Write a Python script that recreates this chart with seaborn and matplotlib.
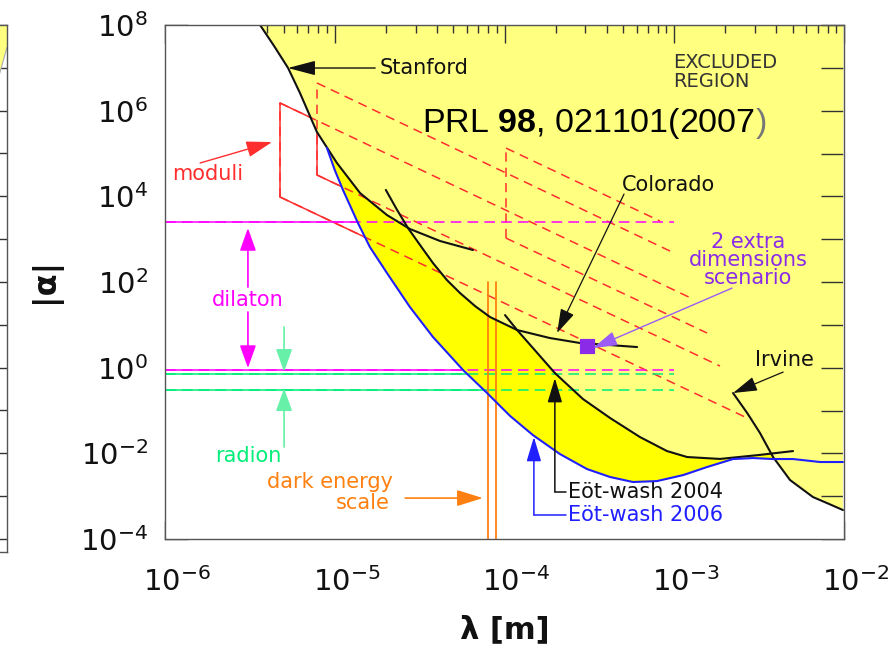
import numpy as np
import matplotlib
matplotlib.use("Agg")
import matplotlib.pyplot as plt
from matplotlib import font_manager
from matplotlib.patches import Polygon
from matplotlib.ticker import LogLocator, NullLocator, FuncFormatter, NullFormatter
from matplotlib.transforms import ScaledTranslation
import seaborn as sns

# ---------------- data ----------------
stanford_lam = [3.63e-6, 4.39e-6, 5.31e-6, 6.24e-6, 7.85e-6, 1.03e-5, 1.41e-5, 2.03e-5, 2.77e-5, 4.17e-5, 6.52e-5]
stanford_alpha = [1e8, 3.24e7, 9.9e6, 2.58e6, 3.18e5, 6.0e4, 1.19e4, 3.66e3, 1.73e3, 906, 558]

colorado_lam = [2.00e-5, 2.33e-5, 2.70e-5, 3.18e-5, 3.79e-5, 4.58e-5, 5.47e-5, 6.70e-5, 8.22e-5,
                1.186e-4, 1.85e-4, 2.79e-4, 4.19e-4, 6.04e-4]
colorado_alpha = [1.41e4, 4.80e3, 1.82e3, 730, 277, 111, 55.3, 27.5, 15.2, 7.57, 4.92, 3.76, 3.37, 3.03]

ew2004_lam = [1.007e-4, 1.186e-4, 1.47e-4, 1.98e-4, 2.90e-4, 4.19e-4, 6.28e-4, 9.06e-4, 1.19e-3,
              1.86e-3, 3.20e-3, 5.01e-3]
ew2004_alpha = [16.9, 7.57, 2.88, 0.750, 0.185, 0.0667, 0.0240, 0.0113, 8.20e-3, 7.4e-3, 9.2e-3, 0.0113]

ew2006_lam = [9.0e-6, 1.0e-5, 1.118e-5, 1.37e-5, 1.61e-5, 2.03e-5, 2.77e-5, 3.79e-5, 5.70e-5, 7.89e-5,
              1.08e-4, 1.47e-4, 2.12e-4, 3.06e-4, 4.19e-4, 5.71e-4, 7.91e-4, 1.13e-3, 1.56e-3, 2.22e-3,
              2.91e-3, 3.82e-3, 5.01e-3, 7.23e-3, 9.86e-3]
ew2006_alpha = [1.34e5, 4.12e4, 1.41e4, 2.38e3, 656, 162, 26.1, 5.2, 0.881, 0.256, 0.0743, 0.0267,
                9.64e-3, 4.30e-3, 2.80e-3, 2.14e-3, 2.25e-3, 3.11e-3, 4.79e-3, 7.36e-3, 7.76e-3,
                7.36e-3, 7.36e-3, 6.27e-3, 6.27e-3]

irvine_lam = [2.22e-3, 2.69e-3, 3.20e-3, 3.82e-3, 4.81e-3, 6.56e-3, 7.94e-3, 9.86e-3]
irvine_alpha = [0.256, 0.0873, 0.0298, 8.20e-3, 2.38e-3, 9.55e-4, 6.90e-4, 4.74e-4]

# moduli bands (three parallelograms): left edge, and ends of the upper / lower edges
moduli_left_lam = [4.76e-6, 7.86e-6, 1.02e-4]
moduli_top_alpha = [1.51e6, 4.43e6, 1.34e5]
moduli_bot_alpha = [9.64e3, 3.15e4, 1.06e3]
moduli_top_end_lam = [1.29e-3, 9.44e-4, 8.24e-4]
moduli_top_end_alpha = [40.0, 528.0, 2.65e3]
moduli_bot_end_lam = [2.69e-3, 1.86e-3, 1.56e-3]
moduli_bot_end_alpha = [0.0667, 1.09, 6.44]

model_lam_range = [1e-6, 1.0e-3]
dilaton_alpha = [2.5e3, 0.9]
radion_alpha = [0.70, 0.30]

dark_energy_lam = [8.0e-5, 8.9e-5]
dark_energy_alpha = [1e-4, 100.0]

scenario_lam = [3.06e-4]
scenario_alpha = [3.2]

xtick_exps = [-6, -5, -4, -3, -2]
ytick_exps = [-4, -2, 0, 2, 4, 6, 8]

# ---------------- style ----------------
sns.set_theme(style="white")
avail = {f.name for f in font_manager.fontManager.ttflist}
TICKFONT = "Liberation Sans Narrow" if "Liberation Sans Narrow" in avail else "DejaVu Sans"
plt.rcParams["font.family"] = ["DejaVu Sans"]
plt.rcParams["mathtext.fontset"] = "custom"
plt.rcParams["mathtext.rm"] = "Liberation Sans"
plt.rcParams["mathtext.bf"] = "Liberation Sans:bold"
plt.rcParams["mathtext.default"] = "regular"

LY = "#ffff80"
BY = "#ffff00"
BLACK = "#111111"
BLUE = "#1f1fff"
RED = "#ff2e2e"
MAG = "#ff00ff"
GREEN = "#00ee77"
ORANGE = "#ff8010"
PURPLE = "#8b2be8"

W, H = 889, 651
fig = plt.figure(figsize=(W / 100, H / 100), dpi=100)

# ---- partial neighbouring panel at the far left ----
ax0 = fig.add_axes([-120 / W, 1 - 552 / H, 127 / W, 527 / H])
ax0.set_yscale("log")
ax0.set_xlim(0, 1)
ax0.set_ylim(10 ** (8 - 527 / 42.83), 1e8)
ax0.set_facecolor("white")
ax0.fill([0, 1, 1, 0.93, 0], [1e8, 1e8, 3e7, 5.5e6, 5.5e6], color=LY, lw=0)
ax0.plot([0.93, 1.0], [5.5e6, 3e7], color="#aaaaaa", lw=0.8)
ax0.yaxis.set_major_locator(LogLocator(base=10, numticks=30))
ax0.yaxis.set_minor_locator(NullLocator())
ax0.yaxis.set_major_formatter(NullFormatter())
ax0.tick_params(axis="y", which="major", direction="in", length=16, width=1.0, color="#333333",
                left=False, right=True)
ax0.set_xticks([])
for s in ax0.spines.values():
    s.set_color("#555555")
    s.set_linewidth(1.0)

# ---- main axes ----
ax = fig.add_axes([165 / W, 1 - 539 / H, 679 / W, 514 / H])
ax.set_xscale("log")
ax.set_yscale("log")
ax.set_xlim(1e-6, 1e-2)
ax.set_ylim(1e-4, 1e8)
ax.set_facecolor(LY)

grid = np.logspace(-6, -2, 1200)
lg = np.log10(grid)


def interp_curve(lam, a):
    return np.interp(lg, np.log10(lam), np.log10(a), left=np.nan, right=np.nan)


def envelope(curves):
    st = np.vstack([interp_curve(l, a) for l, a in curves])
    out = np.full(lg.shape, np.nan)
    ok = ~np.all(np.isnan(st), axis=0)
    out[ok] = np.nanmin(st[:, ok], axis=0)
    return out


# allowed (white) region
white_top = envelope([(stanford_lam, stanford_alpha), (ew2006_lam, ew2006_alpha),
                      (irvine_lam, irvine_alpha)])
white_top = np.where(np.isnan(white_top), 9.0, white_top)
verts = np.column_stack([np.concatenate([grid, grid[::-1]]),
                         np.concatenate([10 ** white_top, np.full(grid.shape, 1e-6)])])
white_patch = Polygon(verts, closed=True, facecolor="white", edgecolor="none", zorder=1)
ax.add_patch(white_patch)

# newly excluded region (bright yellow)
upper = envelope([(stanford_lam, stanford_alpha), (colorado_lam, colorado_alpha),
                  (ew2004_lam, ew2004_alpha), (irvine_lam, irvine_alpha)])
lower = interp_curve(ew2006_lam, ew2006_alpha)
okb = ~np.isnan(upper) & ~np.isnan(lower) & (upper > lower)
ax.fill_between(grid, 10 ** np.where(okb, lower, 0), 10 ** np.where(okb, upper, 0),
                where=okb, color=BY, lw=0, zorder=2)


def model_line(x, y, color, lw=1.1, dash=(6, 4)):
    ax.plot(x, y, color=color, lw=lw, ls=(0, dash), zorder=3)
    ln, = ax.plot(x, y, color=color, lw=lw, ls="-", zorder=3.1)
    ln.set_clip_path(white_patch)


# moduli bands
for i in range(3):
    model_line([moduli_left_lam[i], moduli_left_lam[i]], [moduli_bot_alpha[i], moduli_top_alpha[i]], RED)
    model_line([moduli_left_lam[i], moduli_top_end_lam[i]], [moduli_top_alpha[i], moduli_top_end_alpha[i]], RED)
    model_line([moduli_left_lam[i], moduli_bot_end_lam[i]], [moduli_bot_alpha[i], moduli_bot_end_alpha[i]], RED)

for a in dilaton_alpha:
    model_line(model_lam_range, [a, a], MAG, dash=(7, 4))
for a in radion_alpha:
    model_line(model_lam_range, [a, a], GREEN, dash=(7, 4))

for l in dark_energy_lam:
    ax.plot([l, l], dark_energy_alpha, color=ORANGE, lw=1.3, zorder=3.2)

# experimental limits
for lam, a, c in [(stanford_lam, stanford_alpha, BLACK), (colorado_lam, colorado_alpha, BLACK),
                  (ew2004_lam, ew2004_alpha, BLACK), (irvine_lam, irvine_alpha, BLACK),
                  (ew2006_lam, ew2006_alpha, BLUE)]:
    sns.lineplot(x=lam, y=a, ax=ax, color=c, lw=1.5, sort=False, estimator=None, zorder=4)

sns.scatterplot(x=scenario_lam, y=scenario_alpha, ax=ax, marker="s", s=110, color=PURPLE,
                edgecolor=PURPLE, zorder=6)


# ---------------- annotations ----------------
def arrow(tip, tail, color, lw=1.0, hl=1.5, hw=0.45):
    ax.annotate("", xy=tip, xytext=tail,
                arrowprops=dict(arrowstyle=f"-|>,head_length={hl},head_width={hw}",
                                color=color, lw=lw, shrinkA=0, shrinkB=0, mutation_scale=10),
                zorder=7)


FS = 15
ax.text(1.85e-5, 9.9e6, "Stanford", fontsize=FS, color=BLACK, ha="left", va="center", zorder=7)
arrow((5.30e-6, 9.9e6), (1.73e-5, 9.9e6), BLACK, hl=1.7, hw=0.45)

ax.text(9.83e-4, 8.0e6, "EXCLUDED\nREGION", fontsize=14, color="#333333", ha="left", va="center",
        linespacing=0.95, zorder=7)

ax.text(4.92e-4, 1.84e4, "Colorado", fontsize=FS, color=BLACK, ha="left", va="center", zorder=7)
arrow((2.04e-4, 6.44), (5.06e-4, 1.13e4), BLACK, lw=0.9, hl=1.5, hw=0.45)

ax.text(2.72e-3, 326, "2 extra\ndimensions\nscenario", fontsize=FS, color=PURPLE, ha="center",
        va="center", linespacing=0.88, zorder=7)
arrow((3.32e-4, 2.87), (2.19e-3, 72), "#9a5cf5", lw=1.0, hl=1.5, hw=0.45)

ax.text(4.43e-3, 1.51, "Irvine", fontsize=FS, color=BLACK, ha="center", va="center", zorder=7)
arrow((2.22e-3, 0.256), (4.38e-3, 0.79), BLACK, lw=0.9, hl=1.5, hw=0.45)

ax.text(2.36e-4, 1.25e-3, "Eöt-wash 2004", fontsize=FS, color=BLACK, ha="left", va="center", zorder=7)
ax.plot([2.30e-4, 1.98e-4], [1.25e-3, 1.25e-3], color=BLACK, lw=1.1, zorder=7)
arrow((1.98e-4, 0.57), (1.98e-4, 1.25e-3), BLACK, lw=1.1, hl=1.5, hw=0.45)

ax.text(2.36e-4, 3.63e-4, "Eöt-wash 2006", fontsize=FS, color=BLUE, ha="left", va="center", zorder=7)
ax.plot([2.30e-4, 1.49e-4], [3.63e-4, 3.63e-4], color=BLUE, lw=1.1, zorder=7)
arrow((1.49e-4, 0.024), (1.49e-4, 3.63e-4), BLUE, lw=1.1, hl=1.5, hw=0.45)

ax.text(1.10e-6, 3.32e4, "moduli", fontsize=FS, color=RED, ha="left", va="center", zorder=7)
arrow((4.27e-6, 1.85e5), (1.61e-6, 6.0e4), RED, lw=1.0, hl=1.6, hw=0.5)

ax.text(3.08e-6, 37.9, "dilaton", fontsize=FS, color=MAG, ha="center", va="center", zorder=7)
arrow((3.08e-6, 1.82e3), (3.08e-6, 76), MAG, lw=1.2, hl=1.4, hw=0.5)
arrow((3.08e-6, 0.98), (3.08e-6, 19.9), MAG, lw=1.2, hl=1.4, hw=0.5)

ax.text(3.08e-6, 8.65e-3, "radion", fontsize=FS, color=GREEN, ha="center", va="center", zorder=7)
arrow((5.03e-6, 0.80), (5.03e-6, 8.9), "#66f0a8", lw=1.2, hl=1.4, hw=0.5)
arrow((5.03e-6, 0.33), (5.03e-6, 0.014), "#66f0a8", lw=1.2, hl=1.4, hw=0.5)

ax.text(9.38e-6, 2.14e-3, "dark energy", fontsize=FS, color=ORANGE, ha="center", va="center", zorder=7)
ax.text(1.47e-5, 6.92e-4, "scale", fontsize=FS, color=ORANGE, ha="center", va="center", zorder=7)
arrow((7.46e-5, 9.03e-4), (2.60e-5, 9.03e-4), ORANGE, lw=1.2, hl=1.6, hw=0.5)

# ---------------- axes / ticks ----------------
ax.xaxis.set_major_locator(LogLocator(base=10, numticks=20))
ax.xaxis.set_minor_locator(LogLocator(base=10, subs=np.arange(2, 10), numticks=40))
ax.xaxis.set_minor_formatter(NullFormatter())
ax.yaxis.set_major_locator(LogLocator(base=10, numticks=30))
ax.yaxis.set_minor_locator(NullLocator())


def fmt_x(v, pos):
    e = int(round(np.log10(v)))
    return r"$10^{%d}$" % e if e in xtick_exps else ""


def fmt_y(v, pos):
    e = int(round(np.log10(v)))
    return r"$10^{%d}$" % e if e in ytick_exps else ""


ax.xaxis.set_major_formatter(FuncFormatter(fmt_x))
ax.yaxis.set_major_formatter(FuncFormatter(fmt_y))
ax.tick_params(axis="x", which="major", direction="in", length=13, width=1.0, color="#333333",
               top=True, bottom=True, pad=20, labelsize=21, labelcolor="#111111")
ax.tick_params(axis="x", which="minor", direction="in", length=6, width=1.0, color="#333333",
               top=True, bottom=True)
ax.tick_params(axis="y", which="major", direction="in", length=16.5, width=1.0, color="#333333",
               left=True, right=True, pad=12, labelsize=21, labelcolor="#111111")
for lab in ax.get_xticklabels() + ax.get_yticklabels():
    lab.set_fontfamily(TICKFONT)
for lab in ax.get_xticklabels():
    lab.set_transform(lab.get_transform() + ScaledTranslation(12 / 100, 0, fig.dpi_scale_trans))
for s in ax.spines.values():
    s.set_color("#555555")
    s.set_linewidth(1.0)
    s.set_zorder(8)

fig.text(45 / W, 1 - 280 / H, "|α|", rotation=90, fontsize=23, fontweight="bold",
         ha="center", va="center", color="#111111")
fig.text(505 / W, 1 - 630 / H, "λ [m]", fontsize=22, fontweight="bold",
         ha="center", va="center", color="#111111")

# reference line at the top
t_prl = fig.text(422 / W, 1 - 132 / H, r"PRL $\mathbf{98}$, 021101(2007", fontsize=24.5,
                 family="Liberation Sans", va="baseline", ha="left", color="black", zorder=9)
fig.canvas.draw()
bb = t_prl.get_window_extent(fig.canvas.get_renderer())
fig.text(bb.x1 / W + 1 / W, 1 - 132 / H, ")", fontsize=24.5, family="Liberation Sans",
         va="baseline", ha="left", color="#777777", zorder=9)

fig.savefig("out.png", dpi=100)
